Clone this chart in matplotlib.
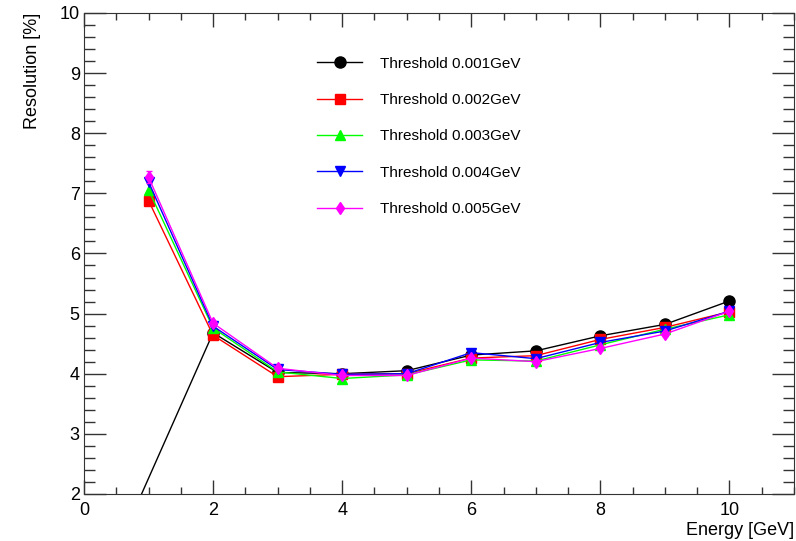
import numpy as np
import matplotlib
matplotlib.use('Agg')
import matplotlib.pyplot as plt
from matplotlib.ticker import MultipleLocator

plt.rcParams['font.family'] = ['Liberation Sans', 'DejaVu Sans']

# energies in GeV
energy = [1, 2, 3, 4, 5, 6, 7, 8, 9, 10]
# the 0.001 GeV series starts below the frame, its line comes in from the bottom
energy_thr1 = [0.5, 2, 3, 4, 5, 6, 7, 8, 9, 10]

res_thr1 = [1.05, 4.68, 4.02, 4.00, 4.05, 4.31, 4.38, 4.63, 4.82, 5.21]
res_thr2 = [6.88, 4.64, 3.95, 3.99, 4.00, 4.26, 4.30, 4.57, 4.77, 5.03]
res_thr3 = [7.06, 4.76, 4.03, 3.92, 3.98, 4.23, 4.21, 4.48, 4.74, 4.98]
res_thr4 = [7.19, 4.79, 4.07, 3.99, 4.00, 4.35, 4.25, 4.52, 4.71, 5.04]
res_thr5 = [7.27, 4.84, 4.09, 3.97, 3.97, 4.26, 4.20, 4.42, 4.66, 5.04]

err_thr5 = [0.10, 0.04, 0.03, 0.03, 0.03, 0.03, 0.03, 0.03, 0.03, 0.03]

labels = ['Threshold 0.001GeV', 'Threshold 0.002GeV', 'Threshold 0.003GeV',
          'Threshold 0.004GeV', 'Threshold 0.005GeV']

fig = plt.figure(figsize=(7.96, 5.41), dpi=100)
ax = fig.add_axes([0.1055, 0.087, 0.892, 0.889])

ax.plot(energy_thr1, res_thr1, color='black', lw=1, marker='o', ms=8, label=labels[0])
ax.plot(energy, res_thr2, color='#ff0000', lw=1, marker='s', ms=7.5, label=labels[1])
ax.plot(energy, res_thr3, color='#00ff00', lw=1, marker='^', ms=7, label=labels[2])
ax.plot(energy, res_thr4, color='#0000ff', lw=1, marker='v', ms=7, label=labels[3])
ax.errorbar(energy, res_thr5, yerr=err_thr5, color='#ff00ff', lw=1, fmt='none',
            capsize=2)
ax.plot(energy, res_thr5, color='#ff00ff', lw=1, marker='d', ms=6, label=labels[4])

ax.set_xlim(0, 11)
ax.set_ylim(2, 10)
ax.xaxis.set_major_locator(MultipleLocator(2))
ax.xaxis.set_minor_locator(MultipleLocator(0.5))
ax.yaxis.set_major_locator(MultipleLocator(1))
ax.yaxis.set_minor_locator(MultipleLocator(0.2))

ax.tick_params(axis='both', which='both', direction='in', top=True, right=True,
               labelsize=13, width=1, color='#333333')
ax.tick_params(axis='x', which='major', length=10, pad=6)
ax.tick_params(axis='x', which='minor', length=5)
ax.tick_params(axis='y', which='major', length=16, pad=3)
ax.tick_params(axis='y', which='minor', length=8)
for sp in ax.spines.values():
    sp.set_color('#333333')

ax.set_xlabel('Energy [GeV]', fontsize=13, loc='right')
ax.xaxis.set_label_coords(1.0, -0.058)
ax.set_ylabel('Resolution [%]', fontsize=13, loc='top')
ax.yaxis.set_label_coords(-0.061, 1.0)

ax.legend(loc='upper left', bbox_to_anchor=(0.318, 0.925), frameon=False,
          fontsize=11, handlelength=2.9, handletextpad=1.2, labelspacing=1.46,
          borderpad=0)

fig.savefig('out.png', dpi=100)
